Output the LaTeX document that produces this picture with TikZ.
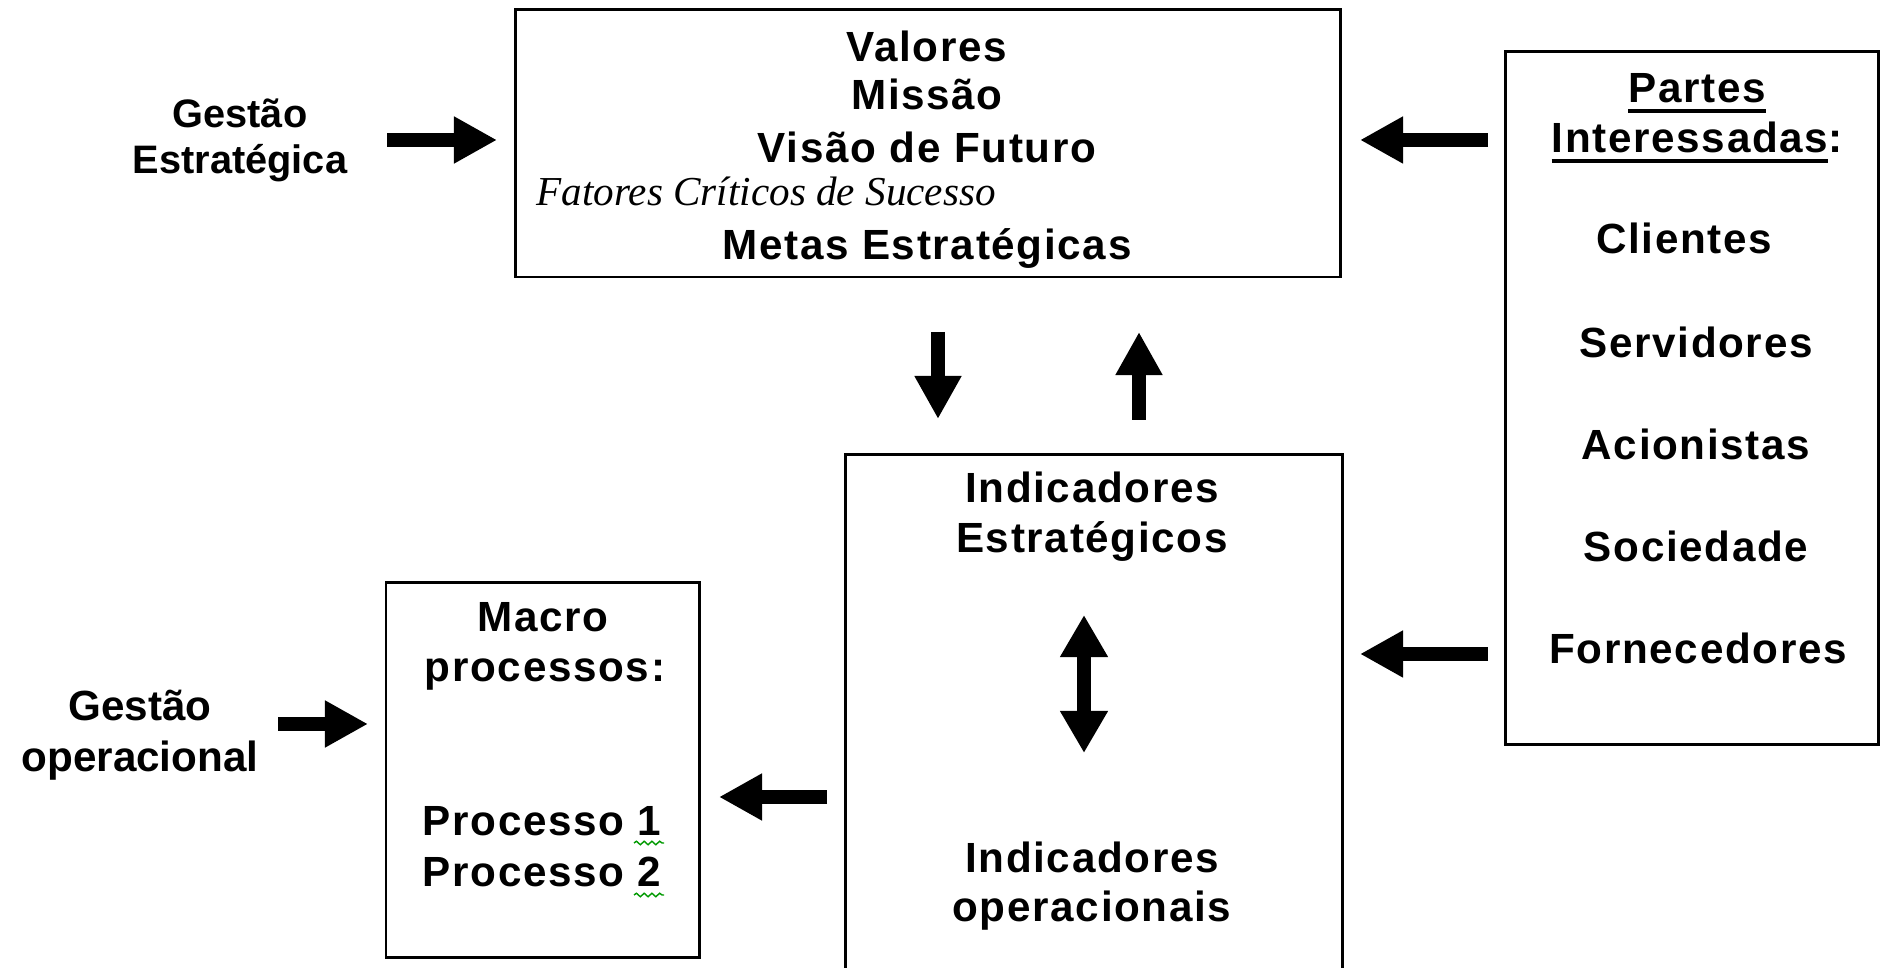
\documentclass[tikz,border=0pt]{standalone}
\usepackage{fontspec}
\setmainfont{Liberation Sans}
\newfontfamily\negrito[LetterSpace=4]{Liberation Sans}
\newfontfamily\fcsfont{Liberation Serif}
\usetikzlibrary{positioning,arrows.meta,decorations.pathmorphing}

\newsavebox\grifobox
\newcommand{\grifo}[1]{\sbox\grifobox{#1}\usebox\grifobox\llap{\rule[-0.1cm]{\wd\grifobox}{0.035cm}}}

\tikzset{
	caixa/.style={draw, line width=0.8pt, inner sep=0pt},
	rotulo/.style={anchor=base, inner sep=0pt, font=\negrito\fontsize{12}{14}\selectfont\bfseries},
	seta/.style={line width=0.14cm, -{Triangle[length=0.43cm,width=0.44cm]}},
	setadupla/.style={line width=0.14cm, {Triangle[length=0.42cm,width=0.45cm]}-{Triangle[length=0.42cm,width=0.45cm]}},
	sublinha/.style={green!60!black, line width=0.4pt, decorate, decoration={snake, amplitude=0.5pt, segment length=2.2pt}}
}

\begin{document}
\begin{tikzpicture}[x=0.01cm, y=-0.01cm]
	\useasboundingbox (0,0) rectangle (1881,968);

	% caixas
	\node[caixa, minimum width=8.24cm, minimum height=2.67cm] (topo) at (928,143.5) {};
	\node[caixa, minimum width=3.72cm, minimum height=6.92cm] (partes) at (1692,398) {};
	\node[caixa, minimum width=4.96cm, minimum height=5.20cm] (ind) at (1094,715) {};
	\node[caixa, minimum width=3.13cm, minimum height=3.74cm] (macro) at (542.5,770) {};

	% textos da caixa de cima
	\node[rotulo] (val) at (927,62) {Valores};
	\node[rotulo] (mis) at (927,110) {Missão};
	\node[rotulo] (vis) at (927,163) {Visão de Futuro};
	\node[anchor=base west, inner sep=0pt, font=\fcsfont\itshape\fontsize{11.7}{14}\selectfont] (fcs) at (536,206) {Fatores Críticos de Sucesso};
	\node[rotulo] (met) at (927,260) {Metas Estratégicas};

	% partes interessadas
	\node[rotulo] (pt) at (1697,103) {\grifo{Partes}};
	\node[rotulo] (int) at (1697,153) {\grifo{Interessadas}:};
	\node[rotulo] (cli) at (1684,254) {Clientes};
	\node[rotulo] (ser) at (1696,358) {Servidores};
	\node[rotulo] (aci) at (1696,460) {Acionistas};
	\node[rotulo] (soc) at (1696,562) {Sociedade};
	\node[rotulo] (for) at (1698,664) {Fornecedores};

	% indicadores
	\node[rotulo] (ie1) at (1092,503) {Indicadores};
	\node[rotulo] (ie2) at (1092,553) {Estratégicos};
	\node[rotulo] (io1) at (1092,873) {Indicadores};
	\node[rotulo] (io2) at (1092,922) {operacionais};

	% macro processos
	\node[rotulo] (mp1) at (543,632) {Macro};
	\node[rotulo] (mp2) at (545,682) {processos:};
	\node[rotulo] (pr1) at (542,836) {Processo 1};
	\node[rotulo] (pr2) at (542,887) {Processo 2};

	% gestao
	\node[rotulo, font=\fontsize{11.3}{14}\selectfont\bfseries] (ge1) at (240,128) {Gestão};
	\node[rotulo, font=\fontsize{11.3}{14}\selectfont\bfseries] (ge2) at (240,174) {Estratégica};
	\node[rotulo, font=\fontsize{12}{14}\selectfont\bfseries] (go1) at (140,721) {Gestão};
	\node[rotulo, font=\fontsize{12}{14}\selectfont\bfseries] (go2) at (140,772) {operacional};

	% pontas das setas
	\coordinate (a1) at (387,140);  \coordinate (b1) at (497,140);
	\coordinate (a2) at (1488,140); \coordinate (b2) at (1360,140);
	\coordinate (a3) at (1488,654); \coordinate (b3) at (1360,654);
	\coordinate (a4) at (938,332);  \coordinate (b4) at (938,419);
	\coordinate (a5) at (1139,420); \coordinate (b5) at (1139,332);
	\coordinate (a6) at (1084,615); \coordinate (b6) at (1084,753);
	\coordinate (a7) at (827,797);  \coordinate (b7) at (719,797);
	\coordinate (a8) at (278,724);  \coordinate (b8) at (368,724);

	\draw[seta] (a1) -- (b1);
	\draw[seta] (a2) -- (b2);
	\draw[seta] (a3) -- (b3);
	\draw[seta] (a4) -- (b4);
	\draw[seta] (a5) -- (b5);
	\draw[setadupla] (a6) -- (b6);
	\draw[seta] (a7) -- (b7);
	\draw[seta] (a8) -- (b8);

	% marcas do corretor
	\draw[sublinha] ([xshift=-0.28cm, yshift=-0.07cm]pr1.base east) -- ([xshift=0.02cm, yshift=-0.07cm]pr1.base east);
	\draw[sublinha] ([xshift=-0.28cm, yshift=-0.08cm]pr2.base east) -- ([xshift=0.02cm, yshift=-0.08cm]pr2.base east);
\end{tikzpicture}
\end{document}
